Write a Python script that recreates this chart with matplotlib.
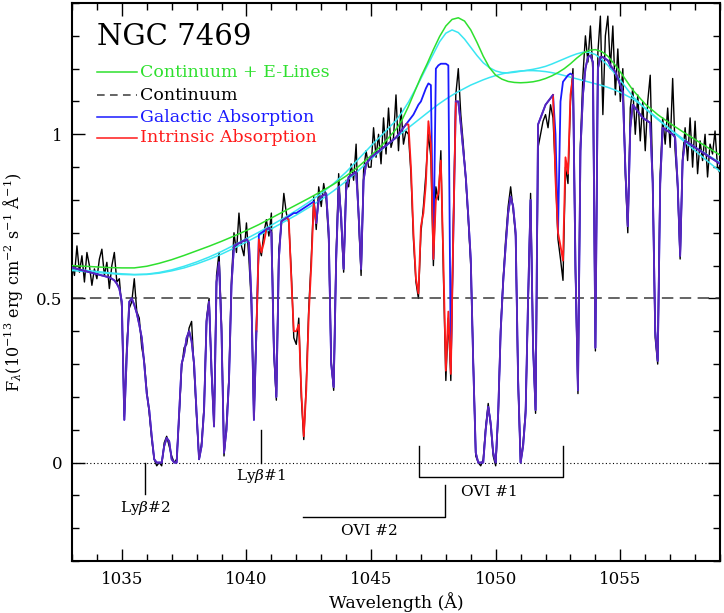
import numpy as np
import matplotlib
matplotlib.use("Agg")
import matplotlib.pyplot as plt
from matplotlib.ticker import MultipleLocator, FixedLocator

plt.rcParams['font.family'] = 'DejaVu Serif'
plt.rcParams['mathtext.fontset'] = 'dejavuserif'

# spectrum grid, 0.1 A steps from 1033.0 to 1059.0
wave = np.round(np.arange(1033.0, 1059.05, 0.1), 1)

flux_obs = [
    0.61, 0.57, 0.66, 0.58, 0.63, 0.55, 0.64, 0.60, 0.54, 0.59,   # 1033
    0.56, 0.62, 0.65, 0.57, 0.61, 0.53, 0.60, 0.64, 0.55, 0.56,   # 1034
    0.47, 0.14, 0.36, 0.47, 0.49, 0.56, 0.46, 0.44, 0.35, 0.31,   # 1035
    0.22, 0.15, 0.07, 0.01, -0.01, 0.00, -0.01, 0.06, 0.08, 0.05, # 1036
    0.02, 0.00, 0.01, 0.14, 0.29, 0.35, 0.36, 0.41, 0.43, 0.28,   # 1037
    0.14, 0.01, 0.06, 0.17, 0.44, 0.50, 0.27, 0.12, 0.57, 0.64,   # 1038
    0.42, 0.02, 0.12, 0.26, 0.56, 0.70, 0.64, 0.76, 0.66, 0.63,   # 1039
    0.73, 0.62, 0.48, 0.14, 0.42, 0.66, 0.63, 0.70, 0.74, 0.69,   # 1040
    0.76, 0.33, 0.19, 0.65, 0.72, 0.82, 0.76, 0.73, 0.58, 0.38,   # 1041
    0.36, 0.44, 0.20, 0.07, 0.24, 0.47, 0.62, 0.81, 0.71, 0.84,   # 1042
    0.78, 0.85, 0.80, 0.68, 0.31, 0.22, 0.64, 0.88, 0.73, 0.58,   # 1043
    0.86, 0.84, 0.91, 0.86, 0.97, 0.74, 0.57, 0.89, 0.95, 0.90,   # 1044
    0.90, 1.02, 0.93, 1.00, 0.91, 1.05, 0.94, 1.08, 0.96, 0.99,   # 1045
    1.12, 0.95, 1.08, 0.97, 1.01, 1.00, 0.88, 0.68, 0.55, 0.50,   # 1046
    0.70, 0.78, 0.88, 1.00, 0.93, 0.60, 0.84, 0.80, 0.95, 0.58,   # 1047
    0.25, 0.44, 0.25, 0.72, 1.12, 1.20, 1.06, 0.97, 0.86, 0.74,   # 1048
    0.60, 0.31, 0.02, 0.00, -0.01, 0.01, 0.11, 0.18, 0.11, 0.02,  # 1049
    -0.01, 0.14, 0.41, 0.56, 0.68, 0.78, 0.84, 0.77, 0.69, 0.24,  # 1050
    0.00, 0.06, 0.16, 0.48, 0.82, 0.36, 0.15, 0.96, 1.00, 1.04,   # 1051
    1.06, 1.02, 1.09, 1.05, 0.88, 0.68, 0.62, 0.555, 0.90, 0.85,  # 1052
    1.10, 1.20, 0.58, 0.21, 0.97, 1.18, 1.30, 1.22, 1.33, 1.19,   # 1053
    0.34, 1.25, 1.36, 1.06, 1.30, 1.36, 1.20, 1.33, 1.12, 1.26,   # 1054
    1.10, 1.20, 0.88, 0.70, 1.08, 1.14, 1.00, 1.12, 0.98, 1.10,   # 1055
    0.95, 1.10, 1.18, 0.86, 0.38, 0.30, 0.88, 1.05, 0.97, 1.08,   # 1056
    0.96, 1.17, 0.95, 0.84, 0.62, 0.93, 1.02, 0.92, 1.05, 0.90,   # 1057
    1.04, 0.88, 0.98, 0.92, 1.00, 0.87, 0.97, 0.94, 1.01, 0.90,   # 1058
    0.88,
]

# model with galactic absorption only
flux_gal = [
    0.594, 0.592, 0.590, 0.588, 0.586, 0.584, 0.582, 0.580, 0.578, 0.576,
    0.574, 0.572, 0.570, 0.568, 0.566, 0.564, 0.560, 0.555, 0.545, 0.530,
    0.490, 0.130, 0.330, 0.490, 0.500, 0.480, 0.455, 0.420, 0.380, 0.300,
    0.210, 0.160, 0.080, 0.010, 0.000, 0.000, 0.000, 0.050, 0.075, 0.065,
    0.010, 0.000, 0.000, 0.150, 0.300, 0.330, 0.380, 0.400, 0.370, 0.300,
    0.150, 0.010, 0.050, 0.160, 0.430, 0.490, 0.280, 0.110, 0.550, 0.610,
    0.400, 0.030, 0.100, 0.250, 0.540, 0.660, 0.664, 0.668, 0.672, 0.676,
    0.680, 0.670, 0.500, 0.130, 0.400, 0.695, 0.700, 0.705, 0.710, 0.715,
    0.700, 0.350, 0.200, 0.620, 0.735, 0.740, 0.745, 0.750, 0.755, 0.760,
    0.760, 0.765, 0.770, 0.775, 0.780, 0.785, 0.790, 0.795, 0.730, 0.800,
    0.810, 0.815, 0.820, 0.700, 0.300, 0.230, 0.620, 0.840, 0.750, 0.590,
    0.830, 0.870, 0.875, 0.880, 0.885, 0.760, 0.590, 0.860, 0.910, 0.920,
    0.930, 0.936, 0.942, 0.948, 0.954, 0.960, 0.966, 0.972, 0.978, 0.984,
    0.990, 1.000, 1.010, 1.020, 1.030, 1.040, 1.050, 1.060, 1.075, 1.090,
    1.100, 1.120, 1.140, 1.155, 1.150, 0.620, 1.200, 1.210, 1.215, 1.215,
    1.215, 1.210, 0.300, 0.700, 1.100, 1.100, 1.030, 0.950, 0.870, 0.750,
    0.620, 0.300, 0.030, 0.000, 0.000, 0.000, 0.100, 0.170, 0.120, 0.030,
    0.000, 0.150, 0.400, 0.550, 0.660, 0.760, 0.810, 0.780, 0.700, 0.250,
    0.000, 0.050, 0.150, 0.500, 0.800, 0.350, 0.160, 1.030, 1.050, 1.070,
    1.090, 1.100, 1.110, 1.120, 1.000, 0.700, 1.100, 1.160, 1.170, 1.180,
    1.185, 1.180, 0.600, 0.220, 0.950, 1.120, 1.200, 1.235, 1.240, 1.220,
    0.350, 1.200, 1.236, 1.235, 1.230, 1.225, 1.210, 1.200, 1.190, 1.170,
    1.150, 1.130, 0.900, 0.720, 1.020, 1.090, 1.080, 1.070, 1.060, 1.050,
    1.045, 1.040, 1.035, 0.850, 0.400, 0.310, 0.850, 1.020, 1.015, 1.010,
    1.005, 1.000, 0.990, 0.850, 0.630, 0.920, 0.980, 0.975, 0.970, 0.965,
    0.960, 0.955, 0.950, 0.945, 0.940, 0.935, 0.930, 0.925, 0.920, 0.915,
    0.910,
]

# intrinsic absorption model, only where it departs from the galactic one
int_wave_lyb1 = [1040.4, 1040.5, 1040.6, 1040.7, 1040.8]
int_flux_lyb1 = [0.400, 0.680, 0.640, 0.670, 0.710]
int_wave_ovi2a = [1041.6, 1041.7, 1041.8, 1041.9, 1042.0, 1042.1, 1042.2,
                  1042.3, 1042.4, 1042.5, 1042.6, 1042.7, 1042.8]
int_flux_ovi2a = [0.745, 0.740, 0.560, 0.400, 0.400, 0.420, 0.220,
                  0.080, 0.220, 0.450, 0.600, 0.790, 0.730]
int_wave_ovi = [1046.4, 1046.5, 1046.6, 1046.7, 1046.8, 1046.9, 1047.0,
                1047.1, 1047.2, 1047.3, 1047.4, 1047.5, 1047.6, 1047.7,
                1047.8, 1047.9, 1048.0, 1048.1, 1048.2, 1048.3, 1048.4]
int_flux_ovi = [1.030, 1.030, 0.900, 0.700, 0.560, 0.515, 0.720,
                0.760, 0.850, 1.040, 0.970, 0.620, 0.800, 0.820,
                0.920, 0.620, 0.280, 0.460, 0.270, 0.700, 1.100]
int_wave_ovi1b = [1052.3, 1052.4, 1052.5, 1052.6, 1052.7, 1052.8, 1052.9,
                  1053.0, 1053.1]
int_flux_ovi1b = [1.120, 0.860, 0.700, 0.660, 0.615, 0.930, 0.880,
                  1.120, 1.180]

# smooth continuum fits
smooth_wave = np.concatenate([np.arange(1033.0, 1046.01, 0.5),
                              np.arange(1046.25, 1055.01, 0.25),
                              np.arange(1055.5, 1059.01, 0.5)])
cont_eline = [
    0.600, 0.598, 0.596, 0.594, 0.593, 0.593, 0.598, 0.607, 0.618, 0.631,
    0.645, 0.659, 0.674, 0.690, 0.707, 0.725, 0.745, 0.765, 0.785, 0.805,
    0.826, 0.848, 0.873, 0.902, 0.935, 0.972, 1.015,
    1.045, 1.085, 1.130, 1.175, 1.215, 1.258, 1.298, 1.330, 1.350, 1.355,
    1.345, 1.318, 1.280, 1.238, 1.203, 1.180, 1.168, 1.161, 1.158, 1.157,
    1.158, 1.160, 1.164, 1.170, 1.178, 1.188, 1.200, 1.215, 1.232, 1.247,
    1.256, 1.258, 1.252, 1.238, 1.215, 1.190,
    1.135, 1.092, 1.060, 1.033, 1.008, 0.984, 0.960, 0.937,
]
cyan_peaked = [
    0.590, 0.586, 0.582, 0.578, 0.575, 0.573, 0.574, 0.579, 0.587, 0.598,
    0.611, 0.626, 0.643, 0.662, 0.682, 0.702, 0.723, 0.745, 0.768, 0.793,
    0.820, 0.850, 0.885, 0.925, 0.965, 1.003, 1.042,
    1.068, 1.098, 1.133, 1.170, 1.208, 1.245, 1.282, 1.308, 1.318, 1.310,
    1.290, 1.265, 1.240, 1.218, 1.203, 1.193, 1.188, 1.187, 1.189, 1.192,
    1.195, 1.198, 1.202, 1.207, 1.214, 1.222, 1.230, 1.238, 1.245, 1.250,
    1.250, 1.243, 1.228, 1.210, 1.188, 1.165,
    1.115, 1.078, 1.045, 1.015, 0.987, 0.960, 0.937, 0.914,
]
cyan_broad = [
    0.585, 0.582, 0.579, 0.576, 0.573, 0.572, 0.573, 0.577, 0.584, 0.593,
    0.605, 0.619, 0.635, 0.653, 0.672, 0.692, 0.712, 0.733, 0.754, 0.777,
    0.801, 0.828, 0.857, 0.890, 0.925, 0.958, 0.990,
    1.005, 1.020, 1.035, 1.050, 1.065, 1.080, 1.094, 1.107, 1.119, 1.130,
    1.140, 1.150, 1.158, 1.166, 1.173, 1.179, 1.184, 1.188, 1.191, 1.193,
    1.194, 1.194, 1.193, 1.191, 1.188, 1.184, 1.179, 1.174, 1.169, 1.164,
    1.159, 1.154, 1.149, 1.143, 1.136, 1.128,
    1.108, 1.080, 1.048, 1.015, 0.982, 0.950, 0.918, 0.887,
]
cont_level = 0.5

c_green = '#2ee02e'
c_cyan = '#3ae6f2'
c_blue = '#1a1aff'
c_red = '#ff1a1a'
c_purple = '#5a26b8'

fig = plt.figure(figsize=(7.24, 6.13), dpi=100)
ax = fig.add_axes([0.0994, 0.0848, 0.8951, 0.9103])

ax.plot(wave, flux_obs, color='black', lw=1.0, zorder=2)
ax.plot(smooth_wave, cyan_broad, color=c_cyan, lw=1.1, zorder=3)
ax.plot(smooth_wave, cyan_peaked, color=c_cyan, lw=1.1, zorder=3)
ax.plot(smooth_wave, cont_eline, color=c_green, lw=1.1, zorder=3)
ax.axhline(cont_level, color='#3a3a3a', lw=1.1, ls=(0, (7.5, 4.2)), zorder=2)
ax.axhline(0, color='black', lw=0.8, ls=(0, (1, 2.2)), zorder=2)

# galactic (blue) underneath, intrinsic (red) on top, shared parts purple
gal = np.array(flux_gal)
ax.plot(wave, gal, color=c_blue, lw=1.3, zorder=4)
shared = gal.copy()
for ww in (int_wave_lyb1, int_wave_ovi2a, int_wave_ovi, int_wave_ovi1b):
    inside = (wave > ww[0] + 0.01) & (wave < ww[-1] - 0.01)
    shared[inside] = np.nan
ax.plot(int_wave_lyb1, int_flux_lyb1, color=c_red, lw=1.3, zorder=5)
ax.plot(int_wave_ovi2a, int_flux_ovi2a, color=c_red, lw=1.3, zorder=5)
ax.plot(int_wave_ovi, int_flux_ovi, color=c_red, lw=1.3, zorder=5)
ax.plot(int_wave_ovi1b, int_flux_ovi1b, color=c_red, lw=1.3, zorder=5)
ax.plot(wave, shared, color=c_purple, lw=1.3, zorder=6)

# line identifications
mk = dict(color='black', lw=1.0, zorder=6)
fs_id = 11
ax.plot([1035.93, 1035.93], [0.0, -0.097], **mk)
ax.text(1035.93, -0.14, r'Ly$\beta$#2', ha='center', va='center', fontsize=fs_id)
ax.plot([1040.58, 1040.58], [0.1, 0.0], **mk)
ax.text(1040.58, -0.04, r'Ly$\beta$#1', ha='center', va='center', fontsize=fs_id)
ax.plot([1046.92, 1046.92, 1052.7, 1052.7], [0.05, -0.045, -0.045, 0.05], **mk)
ax.text(1049.73, -0.09, 'OVI #1', ha='center', va='center', fontsize=fs_id)
ax.plot([1042.27, 1047.97, 1047.97], [-0.167, -0.167, -0.067], **mk)
ax.text(1044.92, -0.21, 'OVI #2', ha='center', va='center', fontsize=fs_id)

# title and legend inside the frame
ax.text(0.0386, 0.939, 'NGC 7469', transform=ax.transAxes, fontsize=21,
        ha='left', va='center')
leg_labels = ['Continuum + E-Lines', 'Continuum', 'Galactic Absorption',
              'Intrinsic Absorption']
leg_colors = [c_green, 'black', c_blue, c_red]
leg_line_colors = [c_green, '#3a3a3a', c_blue, c_red]
leg_styles = ['-', (0, (5, 3.5)), '-', '-']
leg_y = [0.8763, 0.8351, 0.7957, 0.7581]
for lab, tc, lc, ls, yy in zip(leg_labels, leg_colors, leg_line_colors, leg_styles, leg_y):
    ax.plot([0.0386, 0.1003], [yy, yy], transform=ax.transAxes, color=lc,
            lw=1.1, ls=ls)
    ax.text(0.105, yy, lab, transform=ax.transAxes, color=tc, fontsize=12.5,
            ha='left', va='center')

ax.set_xlim(1033, 1059)
ax.set_ylim(-0.3, 1.4)
ax.xaxis.set_major_locator(MultipleLocator(5))
ax.xaxis.set_minor_locator(MultipleLocator(1))
ax.yaxis.set_major_locator(FixedLocator([0, 0.5, 1]))
ax.yaxis.set_minor_locator(MultipleLocator(0.1))
ax.set_yticklabels(['0', '0.5', '1'])
ax.tick_params(which='both', direction='in', top=True, right=True,
               labelsize=12, width=1.0)
ax.tick_params(which='major', length=9, pad=7)
ax.tick_params(which='minor', length=5)
for sp in ax.spines.values():
    sp.set_linewidth(1.5)

ax.set_xlabel('Wavelength (Å)', fontsize=12.5)
ax.xaxis.set_label_coords(0.5, -0.055)
ax.set_ylabel(r'F$_\lambda$(10$^{-13}$ erg cm$^{-2}$ s$^{-1}$ Å$^{-1}$)', fontsize=11.5)
ax.yaxis.set_label_coords(-0.072, 0.5)

fig.savefig('out.png', dpi=100)
